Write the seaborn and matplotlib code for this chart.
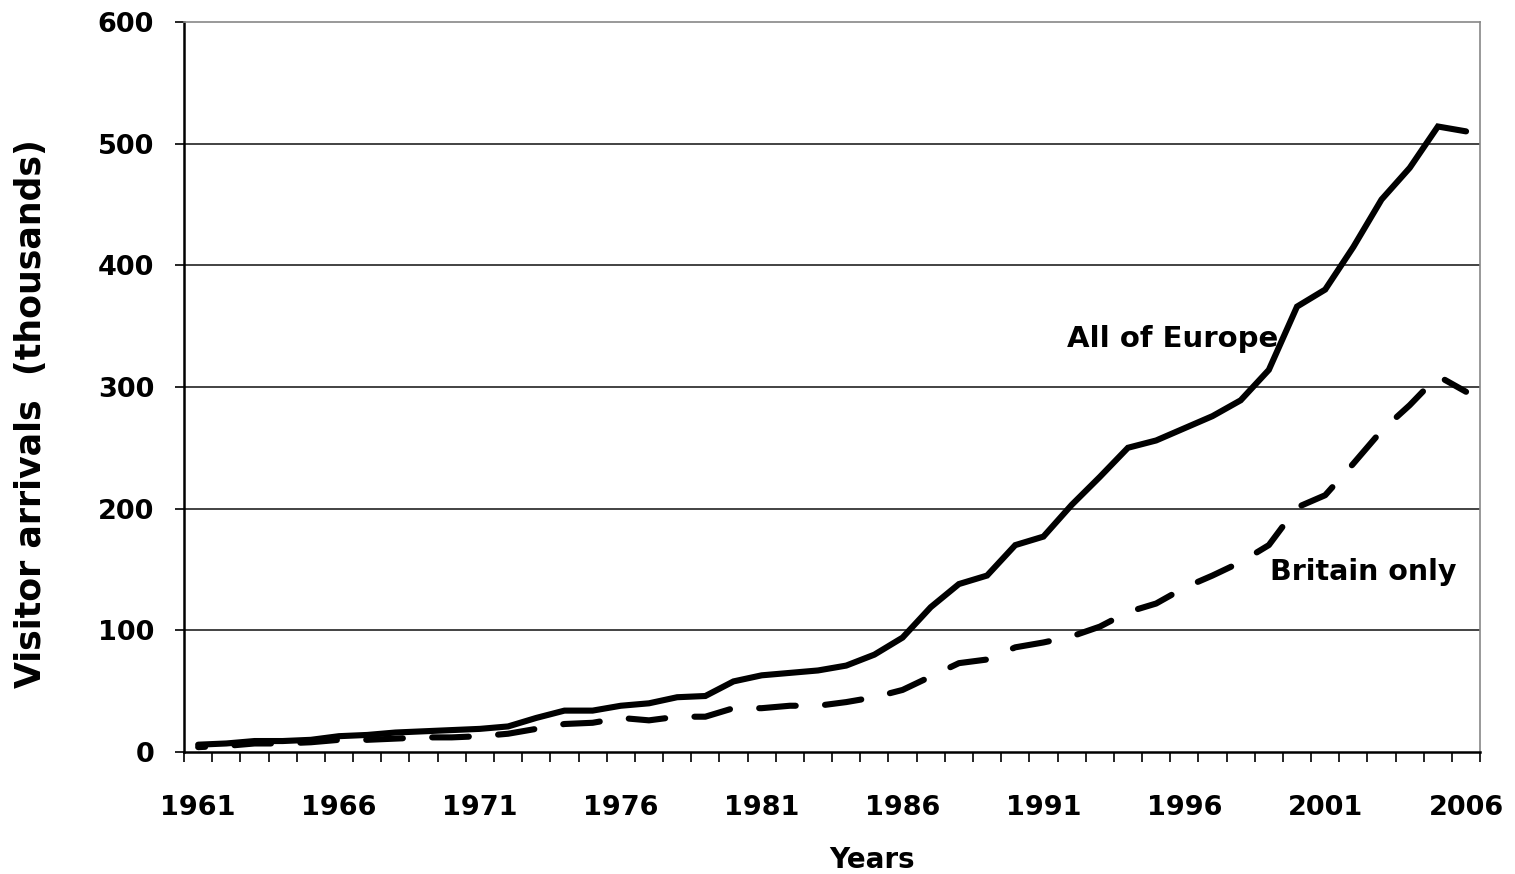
import numpy as np
import pandas as pd
import matplotlib.pyplot as plt
import seaborn as sns
from matplotlib.ticker import FixedLocator

# Visitor arrivals (thousands)
years = list(range(1961, 2007))
europe = [6, 7, 9, 9, 10, 13, 14, 16, 17, 18, 19, 21, 28, 34, 34,
          38, 40, 45, 46, 58, 63, 65, 67, 71, 80, 94, 119, 138, 145,
          170, 177, 203, 226, 250, 256, 266, 276, 289, 314, 366, 380,
          415, 454, 480, 514, 510]
britain = [4, 5, 7, 7, 8, 10, 10, 11, 12, 12, 13, 15, 19, 23, 24,
           28, 26, 29, 29, 36, 36, 38, 38, 41, 45, 51, 62, 73, 76,
           86, 90, 95, 103, 115, 122, 135, 145, 156, 170, 201, 211,
           237, 264, 285, 309, 296]
label_years = [1961, 1966, 1971, 1976, 1981, 1986, 1991, 1996, 2001, 2006]

df = pd.DataFrame({"year": years, "All of Europe": europe, "Britain only": britain})

sns.set_style("white")
plt.rcParams["font.family"] = ["DejaVu Sans"]
plt.rcParams["font.weight"] = "bold"
plt.rcParams["text.color"] = "black"
plt.rcParams["axes.labelcolor"] = "black"
plt.rcParams["xtick.color"] = "black"
plt.rcParams["ytick.color"] = "black"

fig = plt.figure(figsize=(15.15, 8.74), dpi=100)
ax = fig.add_axes([0.1215, 0.1396, 0.8555, 0.8354])

# gridlines
for v in [100, 200, 300, 400, 500]:
    ax.axhline(v, color="#222222", lw=1.2, zorder=1)

sns.lineplot(data=df, x="year", y="All of Europe", ax=ax, color="black",
             lw=4.4, solid_capstyle="round", solid_joinstyle="miter", zorder=3)
# dashed series drawn from the right end so the last dash lands on 2006
sns.lineplot(data=df.iloc[::-1], x="year", y="Britain only", ax=ax, color="black",
             lw=4.4, sort=False, zorder=3)
ax.lines[-1].set_linestyle((2.0, (6.0, 4.8)))
ax.lines[-1].set_dash_capstyle("round")

ax.set_xlim(1960.5, 2006.5)
ax.set_ylim(0, 600)
ax.set_yticks([0, 100, 200, 300, 400, 500, 600])

# category boundaries as ticks, labels in the middle
ax.xaxis.set_major_locator(FixedLocator(np.arange(1960.5, 2007, 1)))
ax.xaxis.set_minor_locator(FixedLocator(label_years))
ax.set_xticklabels([], minor=False)
ax.set_xticklabels([str(y) for y in label_years], minor=True)
ax.tick_params(axis="x", which="major", direction="out", length=7, width=1.2,
               bottom=True)
ax.tick_params(axis="x", which="minor", length=0, pad=31, labelsize=19.5)
ax.tick_params(axis="y", direction="out", length=6.5, width=1.2,
               left=True, pad=15, labelsize=19.5)
for t in ax.get_xticklabels(minor=True) + ax.get_yticklabels():
    t.set_fontweight("bold")

for side in ["left", "bottom"]:
    ax.spines[side].set_color("black")
    ax.spines[side].set_linewidth(1.8)
for side in ["top", "right"]:
    ax.spines[side].set_color("#888888")
    ax.spines[side].set_linewidth(1.2)

ax.set_xlabel("Years", fontsize=20, fontweight="bold", labelpad=18)
ax.xaxis.label.set_x(0.531)
ax.set_ylabel("Visitor arrivals  (thousands)", fontsize=25, fontweight="bold",
              labelpad=36)
ax.yaxis.label.set_y(0.463)

ax.text(1995.6, 333, "All of Europe", fontsize=21, fontweight="bold",
        ha="center", va="baseline")
ax.text(2002.35, 141, "Britain only", fontsize=20.5, fontweight="bold",
        ha="center", va="baseline")

fig.savefig("out.png", dpi=100, facecolor="white")
